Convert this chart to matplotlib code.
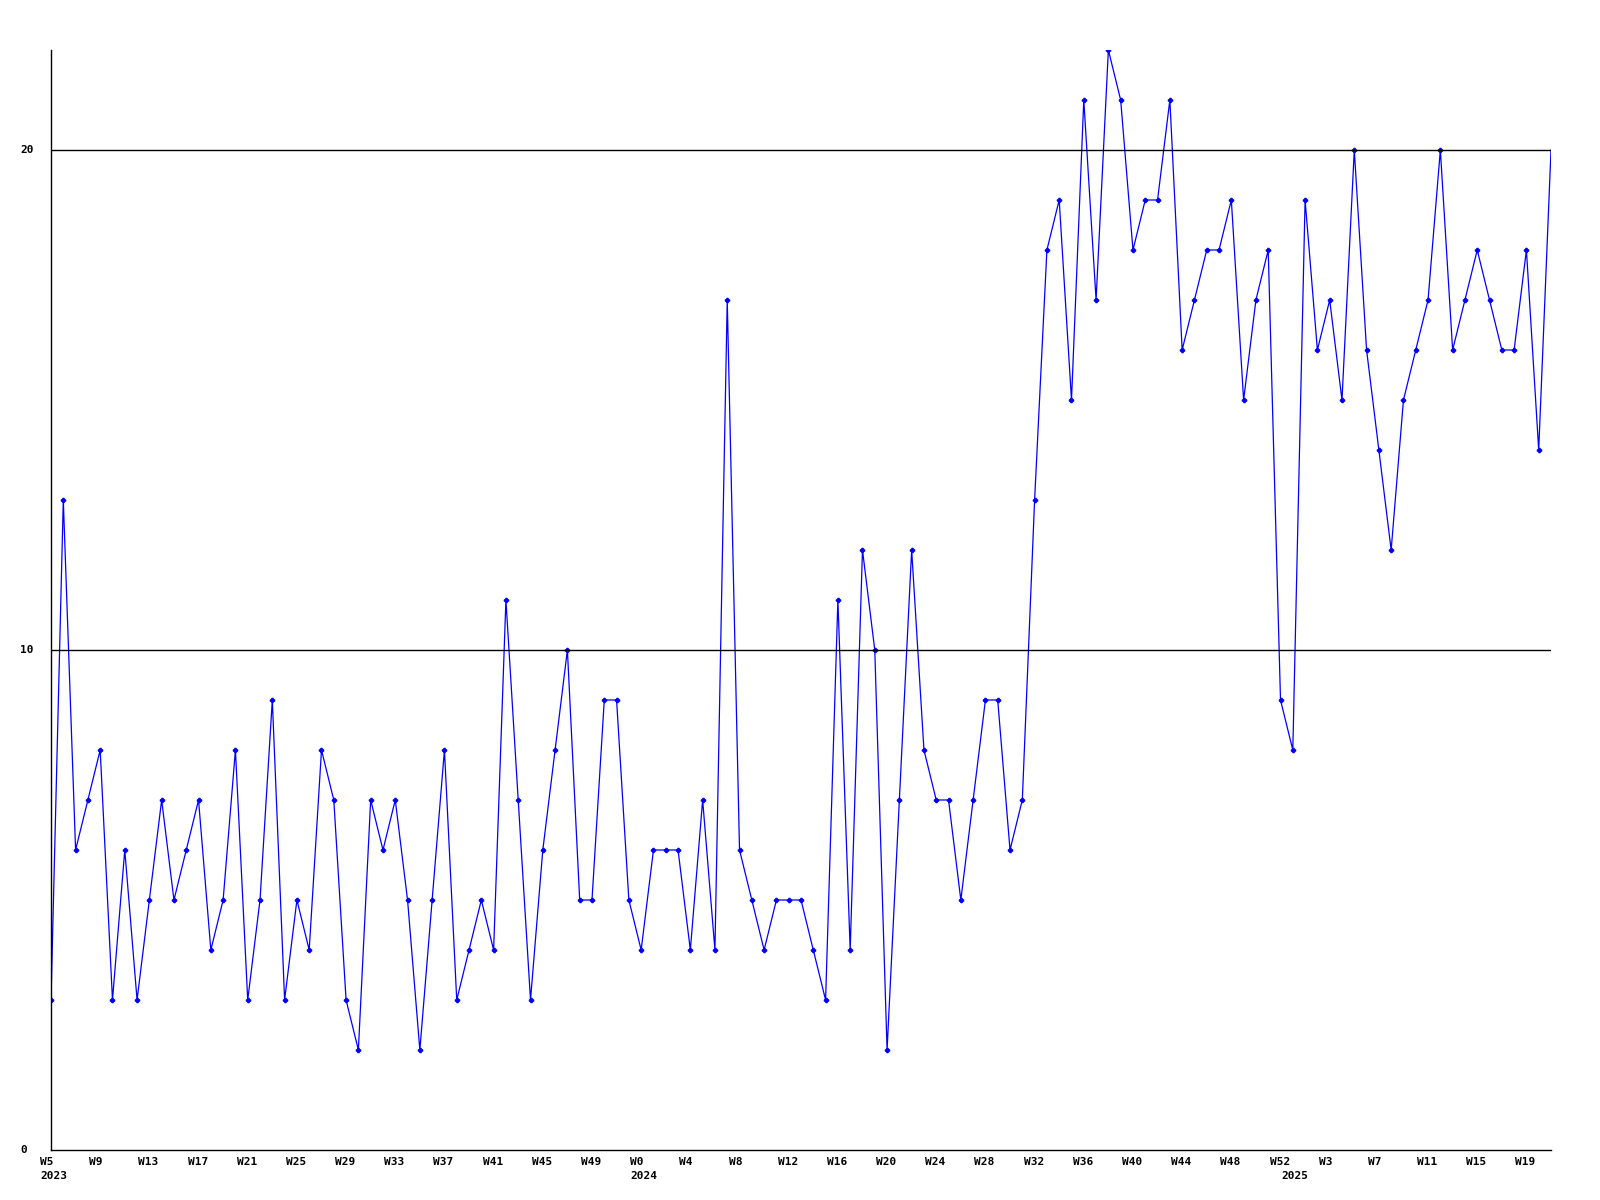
import matplotlib
matplotlib.use("Agg")
import matplotlib.pyplot as plt

# weekly counts, 2023 W5 .. 2025 W21
values = [3, 13, 6, 7, 8, 3, 6, 3, 5, 7, 5, 6, 7, 4, 5, 8, 3, 5, 9, 3,
          5, 4, 8, 7, 3, 2, 7, 6, 7, 5, 2, 5, 8, 3, 4, 5, 4, 11, 7, 3,
          6, 8, 10, 5, 5, 9, 9, 5,
          4, 6, 6, 6, 4, 7, 4, 17, 6, 5, 4, 5, 5, 5, 4, 3, 11, 4, 12, 10,
          2, 7, 12, 8, 7, 7, 5, 7, 9, 9, 6, 7, 13, 18, 19, 15, 21, 17, 22,
          21, 18, 19, 19, 21, 16, 17, 18, 18, 19, 15, 17, 18, 9,
          8, 19, 16, 17, 15, 20, 16, 14, 12, 15, 16, 17, 20, 16, 17, 18,
          17, 16, 16, 18, 14, 20]

tick_pos = list(range(0, 121, 4))
tick_labels = ["W5", "W9", "W13", "W17", "W21", "W25", "W29", "W33", "W37",
               "W41", "W45", "W49", "W0", "W4", "W8", "W12", "W16", "W20",
               "W24", "W28", "W32", "W36", "W40", "W44", "W48", "W52",
               "W3", "W7", "W11", "W15", "W19"]
year_pos = [0, 48, 101]
year_labels = ["2023", "2024", "2025"]
y_ticks = [0, 10, 20]

font = dict(family="DejaVu Sans Mono", fontweight="bold", fontsize=8)
px = 0.72  # points per pixel at dpi 100

fig = plt.figure(figsize=(16, 12), dpi=100)
ax = fig.add_axes([51 / 1600, 1 - 1150 / 1200, 1500 / 1600, 1100 / 1200])

x = list(range(len(values)))
ax.plot(x, values, color="#0000ff", linewidth=0.9)
# last (incomplete) week has no marker
ax.plot(x[:-1], values[:-1], linestyle="none", marker="P", markersize=3,
        color="#0000ff")

for v in y_ticks[1:]:
    ax.axhline(v, color="black", linewidth=1)

ax.set_xlim(0, len(values) - 1)
ax.set_ylim(0, 22)
ax.spines["top"].set_visible(False)
ax.spines["right"].set_visible(False)
ax.spines["left"].set_linewidth(1)
ax.spines["bottom"].set_linewidth(1)
ax.set_xticks([])
ax.set_yticks([])

for p, lab in zip(tick_pos, tick_labels):
    ax.annotate(lab, xy=(p, 0), xycoords=("data", "axes fraction"),
                xytext=(-11 * px, -7 * px), textcoords="offset points",
                ha="left", va="top", **font)
for p, lab in zip(year_pos, year_labels):
    ax.annotate(lab, xy=(p, 0), xycoords=("data", "axes fraction"),
                xytext=(-11 * px, -21 * px), textcoords="offset points",
                ha="left", va="top", **font)
for v in y_ticks:
    ax.annotate(str(v), xy=(0, v), xycoords=("axes fraction", "data"),
                xytext=(-31 * px, 0), textcoords="offset points",
                ha="left", va="center", **font)

fig.savefig("out.png", dpi=100)
